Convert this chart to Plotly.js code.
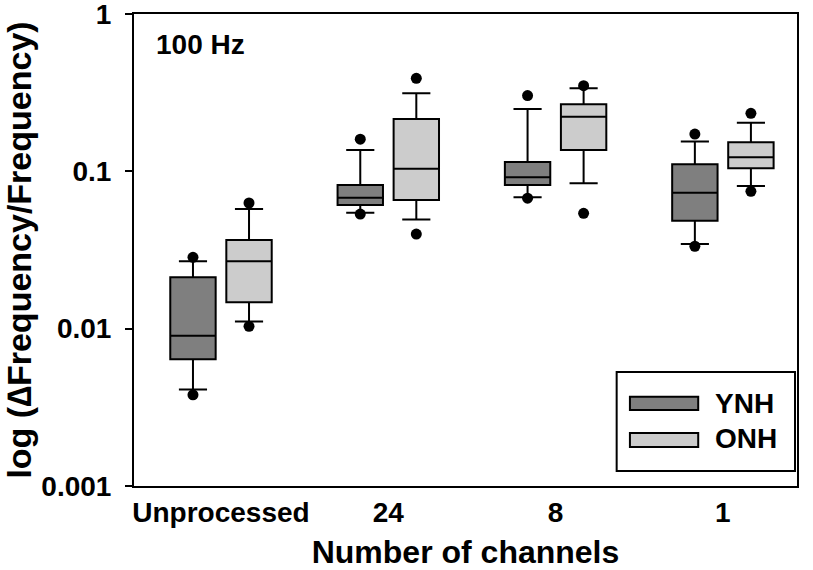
<!DOCTYPE html>
<html>
<head>
<meta charset="utf-8">
<script src="https://cdn.plot.ly/plotly-3.0.1.min.js"></script>
<style>html,body{margin:0;padding:0;background:#fff}#chart{width:813px;height:570px}</style>
</head>
<body>
<div id="chart"></div>
<script>
const categories = ['Unprocessed', '24', '8', '1'];

// YNH (young normal hearing)
const ynhQ1     = [0.0064, 0.061, 0.082, 0.0485];
const ynhMedian = [0.0090, 0.068, 0.0916, 0.073];
const ynhQ3     = [0.0212, 0.082, 0.1146, 0.111];
const ynhLowW   = [0.0041, 0.0545, 0.0684, 0.0345];
const ynhUpW    = [0.0268, 0.1366, 0.249, 0.155];
const ynhLowDot = [0.0038, 0.0535, 0.0675, 0.0334];
const ynhUpDot  = [0.0284, 0.160, 0.303, 0.1726];

// ONH (older normal hearing)
const onhQ1     = [0.0147, 0.0657, 0.1366, 0.1045];
const onhMedian = [0.0268, 0.1038, 0.2223, 0.1227];
const onhQ3     = [0.0366, 0.215, 0.2667, 0.1528];
const onhLowW   = [0.0111, 0.0495, 0.0839, 0.0806];
const onhUpW    = [0.0576, 0.313, 0.337, 0.2037];
const onhLowDot = [0.01035, 0.0399, 0.0541, 0.0746];
const onhUpDot  = [0.0629, 0.390, 0.350, 0.2336];

const yTickVals = [0.001, 0.01, 0.1, 1];
const yTickText = ['0.001', '0.01', '0.1', '1'];

const FONT = 'Liberation Sans, Arial, sans-serif';

function boxTrace(name, fill, q1, med, q3, lw, uw, lo, hi) {
  return {
    type: 'box', name: name, x: categories,
    q1: q1, median: med, q3: q3, lowerfence: lw, upperfence: uw,
    y: categories.map((c, i) => [lo[i], hi[i]]),
    boxpoints: 'all', jitter: 0, pointpos: 0,
    marker: {color: '#000', size: 11, line: {width: 0}},
    fillcolor: fill, line: {color: '#000', width: 2},
    whiskerwidth: 0.62, hoverinfo: 'skip', showlegend: false
  };
}

const data = [
  boxTrace('YNH', '#7f7f7f', ynhQ1, ynhMedian, ynhQ3, ynhLowW, ynhUpW, ynhLowDot, ynhUpDot),
  boxTrace('ONH', '#cccccc', onhQ1, onhMedian, onhQ3, onhLowW, onhUpW, onhLowDot, onhUpDot)
];

const layout = {
  width: 813, height: 570,
  margin: {l: 134, r: 16, t: 14, b: 84},
  paper_bgcolor: '#fff', plot_bgcolor: '#fff',
  boxmode: 'group', boxgap: 0.33, boxgroupgap: 0.19,
  showlegend: false,
  font: {family: FONT, color: '#000'},
  xaxis: {
    type: 'category', range: [-0.52, 3.443],
    showline: true, linecolor: '#000', linewidth: 2, mirror: true,
    ticks: '', showgrid: false, zeroline: false,
    tickfont: {family: FONT, size: 28, weight: 'bold'},
    title: {text: 'Number of channels', font: {family: FONT, size: 32, weight: 'bold'}, standoff: 23}
  },
  yaxis: {
    type: 'log', range: [-3, 0],
    tickvals: yTickVals, ticktext: yTickText,
    showline: true, linecolor: '#000', linewidth: 2, mirror: true,
    ticks: 'outside', ticklen: 7, tickwidth: 2, tickcolor: '#000',
    ticklabelstandoff: 8, ticklabeloverflow: 'allow',
    showgrid: false, zeroline: false,
    tickfont: {family: FONT, size: 28, weight: 'bold'},
    title: {text: 'log (∆Frequency/Frequency)', font: {family: FONT, size: 34, weight: 'bold'}, standoff: 4}
  },
  annotations: [
    {xref: 'paper', yref: 'paper', x: 0.03, y: 0.936, xanchor: 'left', yanchor: 'middle',
     text: '100 Hz', showarrow: false, font: {family: FONT, size: 28, weight: 'bold'}},
    {xref: 'paper', yref: 'paper', x: 0.873, y: 0.1744, xanchor: 'left', yanchor: 'middle',
     text: 'YNH', showarrow: false, font: {family: FONT, size: 28, weight: 'bold'}},
    {xref: 'paper', yref: 'paper', x: 0.873, y: 0.0996, xanchor: 'left', yanchor: 'middle',
     text: 'ONH', showarrow: false, font: {family: FONT, size: 28, weight: 'bold'}}
  ],
  shapes: [
    {type: 'rect', xref: 'paper', yref: 'paper', x0: 0.728, x1: 0.997, y0: 0.032, y1: 0.2415,
     line: {color: '#000', width: 2}, fillcolor: 'rgba(0,0,0,0)'},
    {type: 'rect', xref: 'paper', yref: 'paper', x0: 0.748, x1: 0.851, y0: 0.161, y1: 0.189,
     line: {color: '#000', width: 2}, fillcolor: '#7f7f7f'},
    {type: 'rect', xref: 'paper', yref: 'paper', x0: 0.748, x1: 0.851, y0: 0.0826, y1: 0.1123,
     line: {color: '#000', width: 2}, fillcolor: '#cccccc'}
  ]
};

Plotly.newPlot('chart', data, layout, {displayModeBar: false, staticPlot: true});
</script>
</body>
</html>
